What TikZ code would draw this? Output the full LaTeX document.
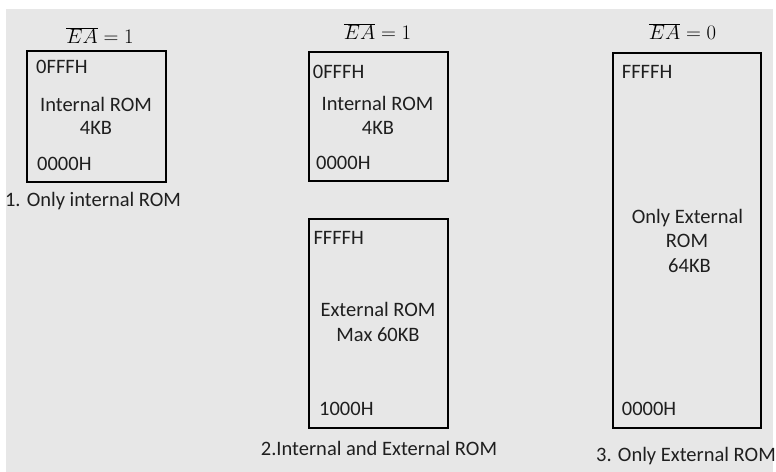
\documentclass[tikz,border=0pt]{standalone}
\usepackage{fontspec}
\newfontfamily\carl{Carlito}
\definecolor{bggray}{RGB}{231,231,231}
\tikzset{
  rombox/.style={draw=black, line width=2.7bp, inner sep=0pt},
  lbl/.style={font=\carl\fontsize{20.5bp}{24bp}\selectfont, inner sep=0pt, text=black!88},
  ealbl/.style={font=\fontsize{19bp}{22bp}\selectfont, inner sep=0pt}
}
\begin{document}
\begin{tikzpicture}[x=1bp,y=-1bp]
\useasboundingbox (0,0) rectangle (776,472);
\fill[bggray] (6,9) rectangle (773,472);
% boxes
\node[rombox, minimum width=139bp, minimum height=131bp] (b1) at (96.5,116.5) {};
\node[rombox, minimum width=139bp, minimum height=129bp] (b2) at (378.5,116.5) {};
\node[rombox, minimum width=139bp, minimum height=209bp] (b2x) at (378.5,323.5) {};
\node[rombox, minimum width=148bp, minimum height=375bp] (b3) at (687,240.5) {};
% EA labels
\node[ealbl, anchor=base] (ea1) at (100,44) {$\overline{EA} = 1$};
\node[ealbl, anchor=base] (ea2) at (377.5,40) {$\overline{EA} = 1$};
\node[ealbl, anchor=base] (ea3) at (682.5,40) {$\overline{EA} = 0$};
% box 1
\node[lbl, anchor=base west] (t1a) at (36,74) {0FFFH};
\node[lbl, anchor=base] (t1b) at (96,111.7) {Internal ROM};
\node[lbl, anchor=base] (t1c) at (96,135) {4KB};
\node[lbl, anchor=base west] (t1d) at (37,170.7) {0000H};
\node[lbl, anchor=base] (c1) at (93,206.7) {1. Only internal ROM};
% box 2 top
\node[lbl, anchor=base west] (t2a) at (312.7,79) {0FFFH};
\node[lbl, anchor=base] (t2b) at (377.5,111) {Internal ROM};
\node[lbl, anchor=base] (t2c) at (378,135) {4KB};
\node[lbl, anchor=base west] (t2d) at (316,170) {0000H};
% box 2 bottom
\node[lbl, anchor=base west] (t2e) at (313.3,245) {FFFFH};
\node[lbl, anchor=base] (t2f) at (378,316.7) {External ROM};
\node[lbl, anchor=base] (t2g) at (378,341.7) {Max 60KB};
\node[lbl, anchor=base west] (t2h) at (319,415) {1000H};
\node[lbl, anchor=base] (c2) at (379,455) {2.Internal and External ROM};
% box 3
\node[lbl, anchor=base west] (t3a) at (621.7,79) {FFFFH};
\node[lbl, anchor=base] (t3b) at (687.5,224) {Only External};
\node[lbl, anchor=base] (t3c) at (687,247.7) {ROM};
\node[lbl, anchor=base] (t3d) at (689.5,272.3) {64KB};
\node[lbl, anchor=base west] (t3e) at (621.7,415.7) {0000H};
\node[lbl, anchor=base] (c3) at (686,461.7) {3. Only External ROM};
\end{tikzpicture}
\end{document}
